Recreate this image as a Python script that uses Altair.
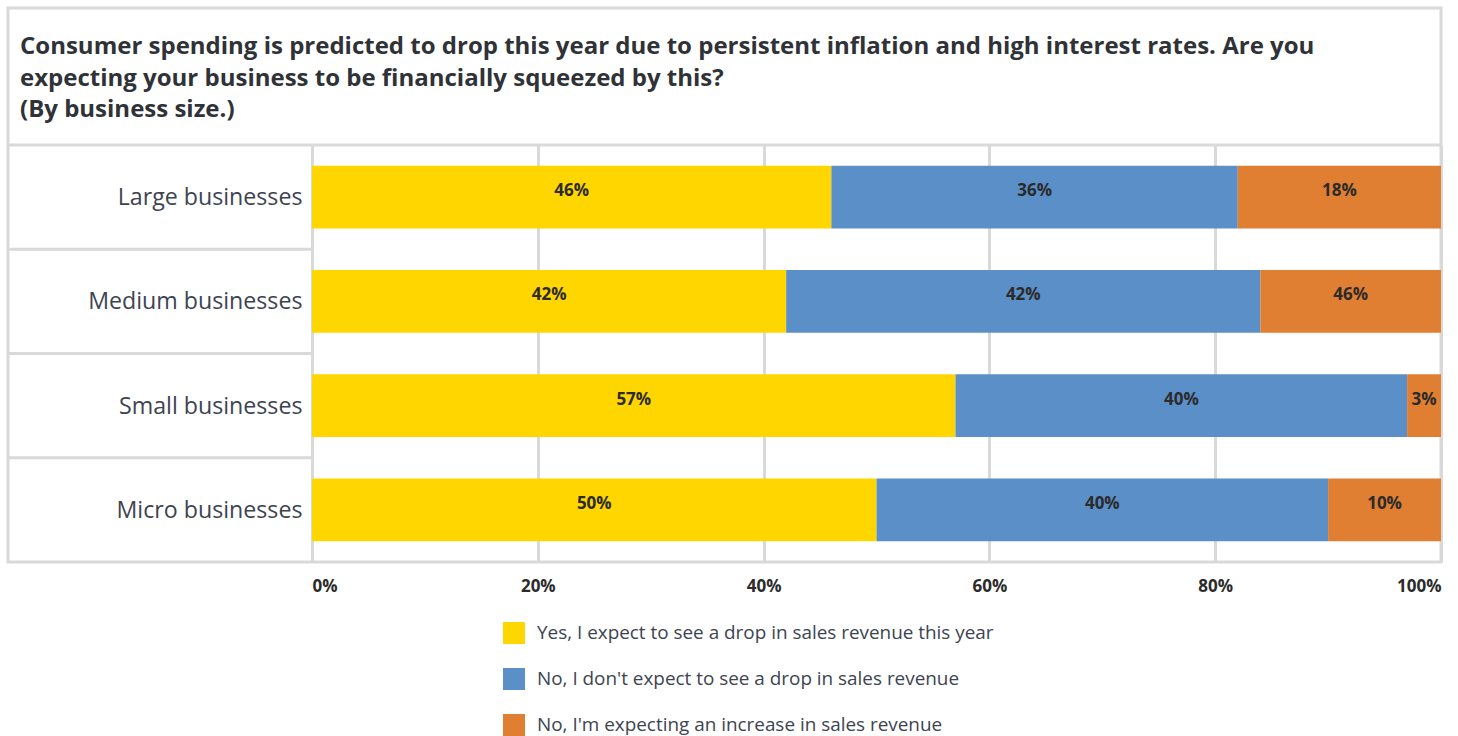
import altair as alt
import pandas as pd

categories = ["Large businesses", "Medium businesses", "Small businesses", "Micro businesses"]
answers = [
    "Yes, I expect to see a drop in sales revenue this year",
    "No, I don't expect to see a drop in sales revenue",
    "No, I'm expecting an increase in sales revenue",
]
yes_drop = [46, 42, 57, 50]
no_drop = [36, 42, 40, 40]
increase = [18, 16, 3, 10]
yes_labels = ["46%", "42%", "57%", "50%"]
no_labels = ["36%", "42%", "40%", "40%"]
inc_labels = ["18%", "46%", "3%", "10%"]
colors = ["#FFD600", "#5B8FC8", "#E07E32"]
x_ticks = [0, 20, 40, 60, 80, 100]
title_lines = [
    "Consumer spending is predicted to drop this year due to persistent inflation and high interest rates. Are you",
    "expecting your business to be financially squeezed by this?",
    "(By business size.)",
]

FONT = "Open Sans"
W, H = 1129, 417
BORDER = "#d9d9d9"

rows = []
for series_i, (vals, labs) in enumerate([(yes_drop, yes_labels), (no_drop, no_labels), (increase, inc_labels)]):
    for c, v, l in zip(categories, vals, labs):
        rows.append({"size": c, "answer": answers[series_i], "order": series_i, "value": v, "label": l})
df = pd.DataFrame(rows)

base = alt.Chart(df).transform_stack(
    stack="value", groupby=["size"], as_=["x0", "x1"], sort=[alt.SortField("order")]
).transform_calculate(mid="(datum.x0 + datum.x1) / 2")

y_enc = alt.Y(
    "size:N",
    sort=categories,
    scale=alt.Scale(domain=categories, paddingInner=0.4, paddingOuter=0.2),
    axis=alt.Axis(title=None, ticks=False, domain=False, grid=False, labelFontSize=23.2,
                  labelPadding=10, labelColor="#3d4451", labelFont=FONT, labelLimit=400,
                  labelOffset=1),
)
x_scale = alt.Scale(domain=[0, 100], nice=False)

bars = base.mark_bar().encode(
    x=alt.X("x0:Q", scale=x_scale,
            axis=alt.Axis(title=None, values=x_ticks, labelExpr="datum.value + '%'",
                          ticks=False, domain=False, grid=True, gridColor=BORDER, gridWidth=3,
                          labelFontSize=17, labelFontWeight="bold", labelColor="#2b2b2b",
                          labelFont=FONT, labelPadding=16, labelFlush=True)),
    x2="x1:Q",
    y=y_enc,
    color=alt.Color("answer:N", sort=answers,
                    scale=alt.Scale(domain=answers, range=colors),
                    legend=alt.Legend(orient="none", legendX=191, legendY=477, title=None,
                                      symbolType="square", symbolSize=484, symbolStrokeWidth=0,
                                      labelFontSize=18.9, labelColor="#3d4451", labelFont=FONT,
                                      labelLimit=700, rowPadding=24, labelOffset=12)),
)

texts = base.mark_text(fontSize=17, fontWeight="bold", color="#2b2b2b", font=FONT, dy=-6).encode(
    x=alt.X("mid:Q", scale=x_scale),
    y=y_enc,
    text="label:N",
)

one = pd.DataFrame({"k": [0]})
frame = alt.Chart(one).mark_rect(fillOpacity=0, stroke=BORDER, strokeWidth=3).encode(
    x=alt.value(-304), x2=alt.value(W), y=alt.value(-137), y2=alt.value(H)
)
title_rule = alt.Chart(one).mark_rule(color=BORDER, strokeWidth=3).encode(
    x=alt.value(-304), x2=alt.value(W), y=alt.value(0)
)
title = alt.Chart(one).mark_text(align="left", baseline="top", fontSize=24, fontWeight="bold",
                                 color="#2f3237", font=FONT, lineHeight=31.5).encode(
    x=alt.value(-292), y=alt.value(-110), text=alt.value(title_lines)
)

sep_df = pd.DataFrame({"size": categories[1:]})
seps = alt.Chart(sep_df).mark_rule(color=BORDER, strokeWidth=3).encode(
    y=alt.Y("size:N", sort=categories, bandPosition=0,
            scale=alt.Scale(domain=categories, paddingInner=0, paddingOuter=0), axis=None),
    x=alt.value(-304), x2=alt.value(0),
)

main = alt.layer(bars, texts)
chart = alt.layer(frame, title_rule, title, main, seps).resolve_scale(y="independent").properties(
    width=W, height=H, autosize="none",
    padding={"left": 312, "top": 145, "right": 17, "bottom": 174},
).configure_view(stroke=None)

chart.save("out.html", embed_options={"renderer": "svg", "actions": False})
